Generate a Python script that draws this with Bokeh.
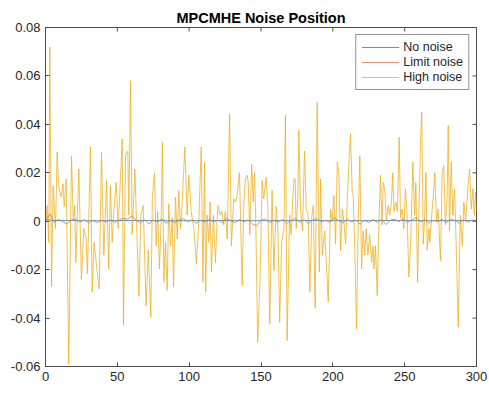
import math
from bokeh.plotting import figure
from bokeh.models import FixedTicker, Range1d, Legend, LegendItem
from bokeh.embed import file_html
from bokeh.resources import INLINE

title_text = "MPCMHE Noise Position"
series_names = ["No noise", "Limit noise", "High noise"]
x_ticks = [0, 50, 100, 150, 200, 250, 300]
y_ticks = [-0.06, -0.04, -0.02, 0.0, 0.02, 0.04, 0.06, 0.08]
y_tick_labels = ["-0.06", "-0.04", "-0.02", "0", "0.02", "0.04", "0.06", "0.08"]

# No noise (essentially flat)
none_x = [0, 2, 4, 30, 60, 90, 120, 150, 180, 210, 240, 270, 300]
none_y = [0.0003, 0.0007, 0.0003, 0.0002, 0.0003, 0.0002, 0.0003, 0.0002, 0.0003, 0.0002, 0.0003, 0.0002, 0.0003]

# Limit noise (small wiggle)
limit_x = list(range(0, 301, 3))
limit_y = [0, 0.003, -0.0005, 0.0008, -0.0002, -0.0012, 0.0006, 0.0009, -0.0004, 0.0007,
           -0.0008, 0.0003, -0.0006, 0.0005, -0.0004, 0.0006, -0.0005, 0.0004, 0.0012, 0.0008,
           0.0022, 0.0004, -0.0007, 0.0005, -0.0012, 0.0006, -0.0004, 0.0009, -0.0008, 0.0003,
           -0.0006, 0.0005, 0.0011, -0.0003, 0.0006, -0.0009, 0.0004, -0.0005, 0.0007, -0.0004,
           0.0005, -0.0007, 0.0013, 0.0002, -0.0006, 0.0008, -0.0003, 0.0006, -0.0011, -0.0019,
           0.0004, 0.0009, -0.0006, 0.0005, -0.0004, 0.0008, -0.0009, 0.0003, 0.0012, -0.0005,
           0.0006, -0.0008, 0.0004, 0.0011, -0.0004, 0.0005, -0.0006, 0.0015, 0.0003, -0.0007,
           0.0009, -0.0003, 0.0005, -0.0012, 0.0004, -0.0006, 0.0007, -0.0005, 0.0008, -0.0014,
           0.0004, 0.0009, -0.0003, 0.0012, -0.0006, 0.0005, 0.0016, -0.0004, 0.0007, -0.0009,
           0.0005, -0.0003, 0.0008, -0.0006, 0.0009, 0.0003, -0.0008, 0.0006, -0.0004, 0.0005,
           0.0002]

# High noise
high_x = [0.5, 1.2, 2.3, 3.0, 4.2, 5.3, 7.0, 8.1, 9.3, 10.9, 12.2, 13.0, 14.4, 16.2, 18.1, 19.3,
          20.4, 21.1, 23.2, 25.0, 26.7, 28.3, 29.2, 31.3, 32.5, 33.8, 36.0, 37.4, 39.0, 40.6,
          42.5, 44.0, 45.2, 46.4, 47.6, 49.2, 50.6, 53.4, 54.3, 55.7, 56.4, 57.3, 58.0, 59.2,
          60.3, 62.2, 65.0, 66.4, 68.0, 70.0, 71.6, 73.3, 74.4, 75.9, 77.0, 78.1, 79.3, 80.5,
          81.4, 82.4, 83.5, 84.7, 85.8, 87.0, 88.2, 89.1, 90.5, 91.7, 92.8, 94.0, 95.2, 97.0,
          98.6, 99.8, 101.4, 103.3, 105.1, 106.7, 108.4, 109.6, 110.7, 111.5, 112.5, 113.7,
          114.6, 115.5, 116.9, 118.3, 119.4, 120.1, 121.7, 122.8, 124.0, 125.2, 126.5, 128.1,
          129.4, 131.0, 132.2, 133.3, 135.0, 136.9, 138.1, 139.2, 140.4, 141.1, 142.2, 143.5,
          144.6, 145.5, 146.3, 147.7, 149.3, 150.8, 151.9, 153.6, 154.8, 156.1, 157.7, 159.0,
          160.6, 161.8, 163.0, 164.4, 166.0, 167.0, 168.2, 169.9, 171.0, 172.0, 172.9, 173.8,
          174.5, 175.7, 176.3, 177.5, 178.9, 180.3, 181.5, 182.8, 184.0, 185.4, 186.4, 187.7,
          189.1, 190.6, 191.5, 192.7, 194.3, 195.7, 196.8, 198.4, 199.6, 200.7, 201.9, 203.1,
          204.2, 205.4, 206.6, 207.7, 208.9, 210.0, 211.2, 212.3, 213.5, 214.2, 215.4, 216.5,
          217.7, 218.8, 220.0, 221.1, 222.3, 223.2, 224.4, 225.6, 227.0, 228.0, 228.6, 229.7,
          230.9, 232.1, 233.2, 234.2, 235.1, 236.1, 237.3, 238.4, 239.6, 240.8, 241.7, 242.6,
          243.8, 245.0, 246.2, 247.1, 248.2, 249.4, 250.6, 251.7, 252.9, 254.1, 255.7, 256.9,
          257.8, 259.0, 260.1, 261.1, 261.9, 262.9, 263.8, 264.8, 265.7, 266.9, 267.5, 268.5,
          269.6, 271.0, 272.2, 273.3, 274.9, 276.1, 277.2, 278.4, 279.6, 280.3, 281.2, 282.4,
          283.5, 284.7, 285.9, 287.3, 288.7, 290.1, 291.2, 292.4, 294.0, 295.2, 296.4, 297.5,
          298.5, 299.4, 300.0]
high_y = [0.001, 0.0065, -0.0087, 0.0719, -0.027, 0.0147, -0.003, 0.0285, 0.014, 0.0099, 0.0155,
          0.006, 0.0175, -0.059, 0.027, 0.001, 0.0065, -0.017, 0.0216, -0.024, -0.003, -0.0073,
          -0.0217, 0.0306, -0.0293, -0.0087, -0.021, -0.028, 0.0285, -0.014, 0.0168, -0.0197,
          0.0147, -0.0087, 0.005, 0.016, -0.003, 0.034, -0.043, 0.027, 0.0285, 0.029, 0.0025,
          0.058, -0.0055, 0.0216, -0.031, 0.0025, 0.0065, -0.035, -0.012, -0.0397, 0.0099, 0.02,
          -0.0102, 0.004, -0.0197, 0.0, 0.0326, -0.0252, -0.0087, -0.0286, 0.0072, -0.0102,
          0.0014, -0.0272, 0.0099, -0.0073, 0.0127, -0.003, 0.0086, 0.0306, 0.0025, 0.019, 0.004,
          -0.003, -0.0176, 0.0, 0.0306, -0.0252, 0.0244, -0.0293, 0.0025, -0.0087, 0.0079,
          -0.021, 0.0025, -0.017, 0.0, 0.0065, 0.0025, 0.004, -0.0015, 0.004, -0.0073, 0.0443,
          -0.0102, 0.0092, 0.0079, 0.0106, 0.02, -0.0266, 0.0079, 0.0175, 0.019, 0.016, -0.0055,
          0.0237, 0.0079, 0.02, 0.0025, -0.05, -0.0252, 0.0168, 0.0092, 0.0182, 0.005, -0.0424,
          0.0127, -0.0204, 0.006, -0.003, -0.0417, -0.0087, -0.003, 0.0437, -0.0493, 0.0025,
          -0.0055, 0.0079, 0.0175, 0.0175, -0.003, 0.0106, 0.0375, 0.005, -0.004, 0.029, 0.005,
          0.0025, -0.0293, 0.0025, 0.0065, -0.036, 0.049, -0.021, 0.0175, -0.014, -0.004,
          -0.0197, -0.0334, 0.005, 0.0, 0.0106, -0.0094, 0.0244, 0.02, -0.012, 0.005, 0.0,
          -0.0094, 0.0079, 0.0244, 0.0361, 0.012, 0.0106, -0.014, -0.0445, 0.0, 0.027, -0.0197,
          -0.004, -0.014, -0.003, -0.014, -0.0055, -0.017, -0.0102, -0.0197, -0.0102, -0.0307,
          0.0, 0.019, -0.0015, 0.016, 0.0134, 0.0, 0.0065, 0.0025, 0.0079, 0.02, 0.004, 0.0079,
          0.004, 0.0347, 0.0014, 0.005, -0.003, 0.0134, 0.0025, -0.023, -0.0102, 0.0244, 0.0025,
          0.016, -0.0252, 0.0079, 0.034, 0.045, -0.0094, 0.0, 0.02, -0.012, -0.003, -0.0087, 0.0,
          0.0079, 0.02, 0.0, 0.005, -0.0163, 0.02, 0.023, -0.0015, 0.0106, 0.0395, -0.004,
          0.0244, 0.0025, 0.0134, -0.0102, -0.0438, 0.0025, -0.0102, 0.0079, 0.0, 0.0134,
          0.0216, 0.005, 0.0134, 0.0025, 0.012, 0.004]

colors = ["#0072BD", "#D95319", "#EDB120"]
FONT = "Liberation Sans"
TXT = "#262626"
FRAME = "#4d4d4d"

p = figure(width=489, height=394, x_range=Range1d(0, 300), y_range=Range1d(-0.06, 0.08),
           output_backend="svg", toolbar_location=None,
           min_border_left=45, min_border_right=13, min_border_top=27, min_border_bottom=28)
p.xgrid.visible = False
p.ygrid.visible = False
p.outline_line_color = FRAME
p.outline_line_width = 1
p.background_fill_color = "white"
p.border_fill_color = "white"

p.title.text = title_text
p.title.align = "center"
p.title.text_font = FONT
p.title.text_font_size = "14.5px"
p.title.text_font_style = "bold"
p.title.text_color = "black"
p.title.standoff = 4

r_high = p.line(high_x, high_y, line_color=colors[2], line_width=0.8)
r_none = p.line(none_x, none_y, line_color="#4d9ad1", line_width=1)
r_limit = p.line(limit_x, limit_y, line_color="#e0764a", line_width=0.8)

# inward ticks on the top and right edges of the box (clipped to the frame)
p.scatter(x_ticks, [y_ticks[-1]] * len(x_ticks), marker="dash", angle=math.pi / 2,
          size=8, line_color=FRAME, line_width=1)
p.scatter([x_ticks[-1]] * len(y_ticks), y_ticks, marker="dash",
          size=8, line_color=FRAME, line_width=1)

p.xaxis.ticker = FixedTicker(ticks=x_ticks)
p.yaxis.ticker = FixedTicker(ticks=y_ticks)
p.yaxis.major_label_overrides = {t: s for t, s in zip(y_ticks, y_tick_labels)}

for ax in [p.xaxis[0], p.yaxis[0]]:
    ax.axis_line_color = FRAME
    ax.major_tick_line_color = FRAME
    ax.major_tick_in = 4
    ax.major_tick_out = 0
    ax.minor_tick_line_color = None
    ax.major_label_text_font = FONT
    ax.major_label_text_font_size = "13px"
    ax.major_label_text_color = TXT
    ax.major_label_standoff = 5

legend = Legend(items=[LegendItem(label=series_names[0], renderers=[r_none]),
                       LegendItem(label=series_names[1], renderers=[r_limit]),
                       LegendItem(label=series_names[2], renderers=[r_high])],
                location="top_right", margin=7, padding=5, spacing=1,
                glyph_width=38, glyph_height=14, label_height=14, label_standoff=4,
                label_text_font=FONT, label_text_font_size="12.5px", label_text_color=TXT,
                border_line_color="#262626", border_line_width=1,
                background_fill_color="white", background_fill_alpha=1)
p.add_layout(legend)

open("out.html", "w").write(file_html(p, INLINE))
